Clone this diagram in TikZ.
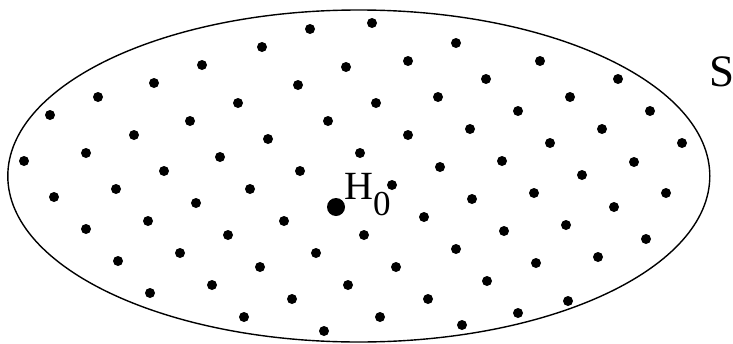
\documentclass[tikz,border=0pt]{standalone}
\usepackage{fontspec}
\setmainfont{Liberation Serif}
\newfontfamily\tnr{Liberation Serif}
\tikzset{
  dotmark/.style={fill=black},
  setline/.style={draw=black, line width=1.4pt},
  bigtext/.style={inner sep=0pt, anchor=base west, font=\tnr}
}
\begin{document}
\begin{tikzpicture}[x=1pt,y=-1pt]
\useasboundingbox (0,0) rectangle (733,343);
\draw[setline] (358.8,176) ellipse [x radius=351pt, y radius=166pt];
\foreach \px/\py in {
202/65,154/83,98/97,50/115,238/103,190/121,134/135,86/153,24/161,220/157,164/171,
310/29,372/23,262/47,456/43,346/67,408/61,298/85,486/79,376/103,438/97,328/121,
268/139,408/135,470/129,360/153,300/171,440/167,540/61,618/79,570/97,518/111,
650/111,602/129,550/143,682/143,502/161,634/162,582/175,54/197,116/189,196/203,
250/189,86/229,148/221,228/235,118/261,180/253,150/293,212/285,244/317,392/185,
472/199,284/221,424/217,364/235,316/253,456/249,260/267,396/267,348/285,487/281,
292/299,428/299,380/317,324/331,462/325,534/193,666/193,614/207,504/231,566/225,
646/239,536/263,598/257,568/301,518/313}
  \fill[dotmark] (\px,\py) circle[radius=5pt];
\fill[dotmark] (336,207) circle[radius=9pt];
\node[bigtext] (h0) at (344,199) {\fontsize{40}{40}\selectfont H\raisebox{-16pt}{\fontsize{35}{35}\selectfont 0}};
\node[bigtext] (s) at (709,86) {\fontsize{45}{45}\selectfont S};
\end{tikzpicture}
\end{document}
